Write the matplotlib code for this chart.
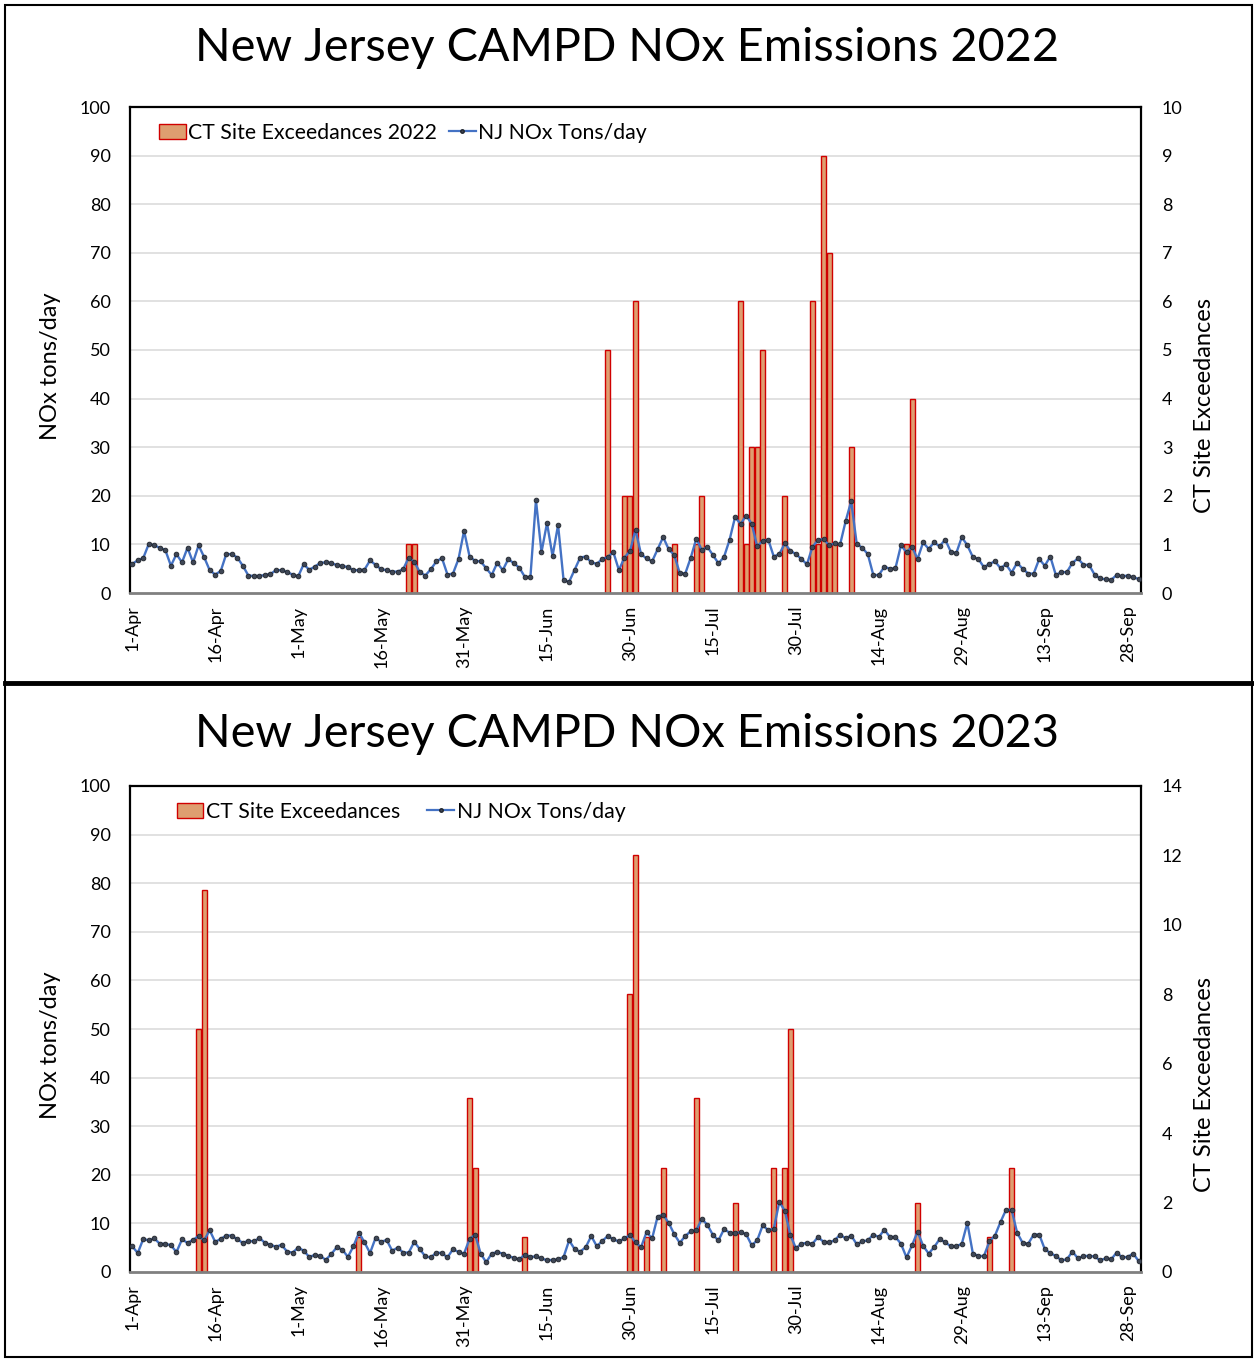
import matplotlib
matplotlib.use('Agg')
import matplotlib.pyplot as plt
import numpy as np
from matplotlib.patches import Rectangle
from matplotlib.lines import Line2D

plt.rcParams['font.family'] = ['Lato', 'DejaVu Sans']

## donnees : 1-Apr (jour 0) -> 30-Sep (jour 182)
tick_days = [0, 15, 30, 45, 60, 75, 90, 105, 120, 135, 150, 165, 180]
tick_labels = ['1-Apr', '16-Apr', '1-May', '16-May', '31-May', '15-Jun', '30-Jun',
               '15-Jul', '30-Jul', '14-Aug', '29-Aug', '13-Sep', '28-Sep']

nox_2022 = [6.0, 6.7, 7.2, 10.1, 9.8, 9.3, 8.8, 5.6, 8.0, 6.3,
            9.3, 6.3, 9.8, 7.4, 4.7, 3.8, 4.5, 8.0, 8.0, 7.3,
            5.6, 3.6, 3.5, 3.5, 3.7, 3.9, 4.7, 4.7, 4.3, 3.8,
            3.4, 5.9, 4.8, 5.4, 6.2, 6.3, 6.2, 5.7, 5.6, 5.3,
            4.7, 4.7, 4.8, 6.7, 5.8, 4.9, 4.7, 4.4, 4.4, 4.9,
            7.3, 6.4, 4.3, 3.6, 4.9, 6.5, 7.2, 3.8, 4.0, 7.0,
            12.8, 7.5, 6.6, 6.5, 5.1, 3.7, 6.2, 4.7, 7.0, 6.1,
            5.2, 3.3, 3.3, 19.1, 8.4, 14.4, 7.6, 14.0, 2.6, 2.3,
            4.8, 7.3, 7.5, 6.3, 6.0, 7.0, 7.4, 8.4, 4.7, 7.3,
            8.6, 13.0, 8.0, 7.1, 6.5, 9.0, 11.5, 9.0, 7.8, 4.1,
            4.0, 7.3, 11.2, 8.8, 9.5, 7.8, 6.1, 7.4, 10.9, 15.6,
            14.2, 15.9, 14.3, 9.6, 10.7, 11.0, 7.5, 8.0, 10.2, 8.7,
            8.0, 7.0, 5.9, 9.5, 10.9, 11.1, 9.8, 10.2, 10.0, 14.8,
            18.9, 10.1, 9.3, 8.0, 3.7, 3.7, 5.4, 5.0, 5.1, 9.8,
            8.4, 9.5, 7.0, 10.4, 9.1, 10.4, 9.6, 11.0, 8.5, 8.2,
            11.5, 9.8, 7.4, 7.0, 5.3, 6.0, 6.5, 5.1, 5.9, 4.2,
            6.2, 5.0, 4.0, 4.0, 7.0, 5.6, 7.5, 3.7, 4.3, 4.3,
            6.2, 7.1, 5.8, 5.8, 3.8, 3.0, 2.8, 2.7, 3.7, 3.4,
            3.6, 3.2, 2.9]

nox_2023 = [5.3, 3.9, 6.8, 6.5, 6.9, 5.8, 5.8, 5.5, 4.1, 6.7,
            6.0, 6.6, 7.4, 6.5, 8.6, 6.2, 6.8, 7.5, 7.5, 6.7,
            6.0, 6.4, 6.3, 7.0, 6.0, 5.6, 5.2, 5.6, 4.2, 4.0,
            5.0, 4.4, 3.1, 3.5, 3.3, 2.5, 3.7, 5.1, 4.6, 3.1,
            5.3, 8.1, 6.1, 3.9, 7.0, 6.2, 6.6, 4.4, 5.0, 4.0,
            4.0, 6.2, 4.7, 3.2, 3.0, 4.0, 3.9, 3.0, 4.7, 4.1,
            3.8, 6.8, 7.7, 3.8, 2.0, 3.8, 4.1, 3.8, 3.3, 2.9,
            2.6, 3.6, 3.1, 3.2, 2.8, 2.4, 2.5, 2.6, 3.1, 6.5,
            4.7, 4.2, 5.1, 7.4, 5.3, 6.4, 7.4, 6.7, 6.3, 6.9,
            7.6, 6.1, 5.1, 8.2, 6.9, 11.4, 11.8, 10.1, 7.8, 6.0,
            7.4, 8.4, 8.6, 10.9, 9.7, 7.6, 6.5, 8.8, 8.1, 8.0,
            8.2, 7.8, 5.5, 6.5, 9.6, 8.6, 8.9, 14.4, 12.6, 7.6,
            4.9, 5.8, 6.0, 5.8, 7.2, 6.2, 6.1, 6.5, 7.7, 6.9,
            7.5, 5.7, 6.3, 6.5, 7.7, 7.2, 8.7, 7.2, 7.2, 5.8,
            3.0, 5.5, 8.3, 5.4, 3.8, 5.1, 6.8, 6.1, 5.3, 5.3,
            5.8, 10.1, 3.8, 3.3, 3.3, 6.3, 7.5, 10.3, 12.8, 12.8,
            8.1, 6.0, 5.8, 7.7, 7.7, 4.7, 3.9, 3.3, 2.4, 2.6,
            4.2, 2.8, 3.3, 3.3, 3.2, 2.4, 2.8, 2.6, 4.0, 3.0,
            3.1, 3.8, 2.2]

# jours avec depassements (index du jour) et nombre de sites
ex22_days = [50, 51, 86, 89, 90, 91, 98, 102, 103, 110, 111, 112, 113, 114,
             118, 123, 124, 125, 126, 127, 130, 140, 141]
ex22_vals = [1, 1, 5, 2, 2, 6, 1, 1, 2, 6, 1, 3, 3, 5,
             2, 6, 1, 9, 7, 1, 3, 1, 4]

ex23_days = [12, 13, 41, 61, 62, 71, 90, 91, 93, 96, 102, 109, 116, 118, 119,
             142, 155, 159]
ex23_vals = [7, 11, 1, 5, 3, 1, 8, 12, 1, 3, 5, 2, 3, 3, 7,
             2, 1, 3]

W, H = 1254, 1359
fig = plt.figure(figsize=(W / 100, H / 100), dpi=100)


def panneau(top_px, title, title_px, nox, ex_days, ex_vals, ex_max, ex_step,
            leg_label, leg_x, colsp):
    rect = [130 / W, 1 - (top_px + 486) / H, 1011 / W, 486 / H]
    ax = fig.add_axes(rect)
    ax2 = ax.twinx()
    ax.set_zorder(2)
    ax2.set_zorder(1)
    ax.patch.set_visible(False)
    ax2.patch.set_visible(True)
    ax2.patch.set_facecolor('white')

    # grille (sur l'axe des barres pour rester derriere)
    for k in range(1, 11):
        ax2.axhline(k * ex_max / 10, color='#d9d9d9', lw=1.1, zorder=0)

    ax2.bar(ex_days, ex_vals, width=0.9, color='#DE9E70', edgecolor='#D00000',
            lw=1.0, zorder=2)
    days = np.arange(len(nox))
    ax.plot(days, nox, color='#4472C4', lw=1.7, marker='o', ms=3.4,
            mfc='#3f4756', mec='#20242b', mew=0.6, zorder=3)

    ax.set_xlim(-0.4, 182.4)
    ax.set_ylim(0, 100)
    ax.set_yticks(range(0, 101, 10))
    ax2.set_ylim(0, ex_max)
    ax2.set_yticks(np.arange(0, ex_max + 0.1, ex_step))
    ax.set_xticks(tick_days, tick_labels, rotation=90)

    ax.tick_params(axis='y', length=0, labelsize=13, pad=14)
    ax.tick_params(axis='x', length=0, labelsize=13, pad=9)
    ax2.tick_params(axis='y', length=0, labelsize=13, pad=15)

    for s in ['top', 'right', 'left']:
        ax.spines[s].set_color('black')
        ax.spines[s].set_linewidth(1.6)
    ax.spines['bottom'].set_color('#808080')
    ax.spines['bottom'].set_linewidth(2)
    for s in ax2.spines.values():
        s.set_visible(False)

    ax.set_ylabel('NOx tons/day', fontsize=17)
    ax.yaxis.set_label_coords(-0.068, 0.467)
    ax2.set_ylabel('CT Site Exceedances', fontsize=17)
    ax2.yaxis.set_label_coords(1.052, 0.386)

    h1 = Rectangle((0, 0), 1, 1, facecolor='#DE9E70', edgecolor='#D00000', lw=1.0)
    h2 = Line2D([], [], color='#4472C4', lw=1.6, marker='o', ms=2.5,
                mfc='#3f4756', mec='#20242b')
    ax.legend([h1, h2], [leg_label, 'NJ NOx Tons/day'], ncol=2, frameon=False,
              fontsize=15.3, loc='center left', bbox_to_anchor=(leg_x, 0.947),
              borderaxespad=0, borderpad=0, handlelength=1.25,
              handletextpad=0.12, columnspacing=colsp)

    fig.text(0.5, 1 - title_px / H, title, ha='center', va='center', fontsize=33.7)


panneau(107, 'New Jersey CAMPD NOx Emissions 2022', 48, nox_2022, ex22_days,
        ex22_vals, 10, 1, 'CT Site Exceedances 2022', 0.029, 0.55)
panneau(786, 'New Jersey CAMPD NOx Emissions 2023', 734, nox_2023, ex23_days,
        ex23_vals, 14, 2, 'CT Site Exceedances', 0.046, 1.3)

# cadres autour des deux graphiques
fig.patches.append(Rectangle((5 / W, 1 - 683 / H), 1247 / W, 678 / H,
                             transform=fig.transFigure, fill=False,
                             edgecolor='black', lw=1.5))
fig.patches.append(Rectangle((5 / W, 1 - 1357 / H), 1247 / W, 674 / H,
                             transform=fig.transFigure, fill=False,
                             edgecolor='black', lw=1.5))
fig.lines.append(Line2D([5 / W, 1252 / W], [1 - 683 / H, 1 - 683 / H],
                        transform=fig.transFigure, color='black', lw=3.5))

fig.savefig('out.png', dpi=100)
